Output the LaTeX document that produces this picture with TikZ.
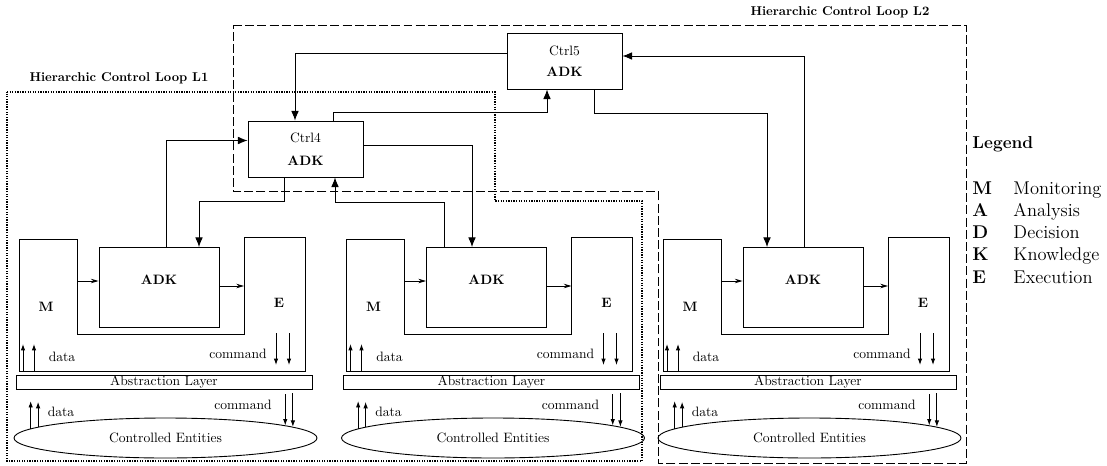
\documentclass[tikz,border=0pt]{standalone}
\usepackage{amsmath}
\usetikzlibrary{calc,arrows.meta,positioning,shapes.geometric}

\begin{document}
\fontsize{10.6}{12.7}\selectfont
\begin{tikzpicture}[x=0.78pt,y=-0.78pt,line width=0.7pt,
    ctrlbox/.style={draw,align=center,minimum width=115*0.78pt,minimum height=56*0.78pt,inner sep=0pt},
    adkbox/.style={draw,minimum width=120*0.78pt,minimum height=80*0.78pt,inner sep=0pt},
    layerbox/.style={draw,minimum width=296*0.78pt,minimum height=14*0.78pt,inner sep=0pt},
    entity/.style={draw,ellipse,minimum width=303*0.78pt,minimum height=40*0.78pt,inner sep=0pt},
    looplabel/.style={font=\fontsize{10}{12}\selectfont\bfseries},
    legfont/.style={font=\fontsize{14.4}{17}\selectfont,anchor=base west,inner sep=0pt},
    legbold/.style={font=\fontsize{14.4}{17}\selectfont\bfseries,anchor=base west,inner sep=0pt},
    bigarr/.style={-{Latex[length=7.5pt,width=6pt]}},
    smallarr/.style={-{Latex[length=5pt,width=3.5pt]}},
    thinarr/.style={-{Stealth[length=6pt,width=3.5pt]}},
    loopone/.style={line width=0.9pt,dash pattern=on 1pt off 1pt},
    looptwo/.style={line width=0.7pt,dash pattern=on 7pt off 2.5pt}]
    \useasboundingbox (0,0) rectangle (1107,466);

    \draw[loopone] (7,92) -- (495,92) -- (495,201) -- (642,201) -- (642,461) -- (7,461) -- cycle;
    \draw[looptwo] (233,25) -- (966,25) -- (966,463) -- (658,463) -- (658,191) -- (233,191) -- cycle;
    \node[looplabel] (lbl1) at (119,78) {Hierarchic Control Loop L1};
    \node[looplabel] (lbl2) at (840,12) {Hierarchic Control Loop L2};

    \node[ctrlbox] (ctrl4) at (305.5,149) {Ctrl4\\[5pt]\textbf{ADK}};
    \node[ctrlbox] (ctrl5) at (564.5,61) {Ctrl5\\[3.5pt]\textbf{ADK}};

    \foreach \i/\dx in {1/0,2/327.5,3/644}{
        \draw (19+\dx,239) -- (77+\dx,239) -- (77+\dx,334) -- (244+\dx,334) -- (244+\dx,237)
            -- (305+\dx,237) -- (305+\dx,371) -- (19+\dx,371) -- cycle;
        \coordinate (mout\i) at (77+\dx,281);
        \coordinate (ein\i) at (244+\dx,286);
        \coordinate (mbot\i) at (19+\dx,371);
        \coordinate (ebot\i) at (305+\dx,371);
        \node[font=\bfseries] (m\i) at (46+\dx,307) {M};
        \node[font=\bfseries] (e\i) at (279+\dx,303) {E};
        \node[adkbox] (adk\i) at (159+\dx,287.5) {};
        \node[font=\bfseries] (adkt\i) at (159+\dx,280) {ADK};
        \draw[thinarr] (mout\i) -- (mout\i -| adk\i.west);
        \draw[thinarr] (adk\i.east |- ein\i) -- (ein\i);

        \draw[smallarr] ($(mbot\i)+(4,0)$) -- ++(0,-27);
        \draw[smallarr] ($(mbot\i)+(15,0)$) -- ++(0,-27);
        \node (dat\i) at (62+\dx,357) {data};
        \draw[smallarr] ($(ebot\i)+(-29,-38)$) -- ++(0,32);
        \draw[smallarr] ($(ebot\i)+(-16,-38)$) -- ++(0,32);
        \node (cmd\i) at (238+\dx,354) {command};

        \node[layerbox] (al\i) at (164+\dx,382) {Abstraction Layer};
        \node[entity] (ce\i) at (165.5+\dx,438) {Controlled Entities};
        \draw[smallarr] (ce\i.176.5) -- ++(0,-27.5);
        \draw[smallarr] (ce\i.175.2) -- ++(0,-25);
        \node (ldat\i) at (61+\dx,412) {data};
        \draw[smallarr] ($(ce\i.6.9)+(0,-31)$) -- (ce\i.6.9);
        \draw[smallarr] ($(ce\i.5.2)+(0,-33.5)$) -- (ce\i.5.2);
        \node (lcmd\i) at (243+\dx,405) {command};
    }

    \draw[bigarr] ($(ctrl5.west)+(0,-8)$) -| ($(ctrl4.north)+(-10.5,0)$);
    \draw[bigarr] ($(ctrl4.north)+(27.5,0)$) -- ++(0,-8) -| ($(ctrl5.south)+(-17.5,0)$);
    \draw[bigarr] ($(ctrl4.east)+(0,-3.5)$) -| ($(adk2.north)+(-14.5,0)$);
    \draw[bigarr] ($(adk2.north)+(-42.5,0)$) -- ++(0,-45) -| ($(ctrl4.south)+(29.5,0)$);
    \draw[bigarr] ($(ctrl4.south)+(-21.5,0)$) -- ++(0,24) -| ($(adk1.north)+(40,0)$);
    \draw[bigarr] ($(adk1.north)+(7,0)$) |- ($(ctrl4.west)+(0,-8.5)$);
    \draw[bigarr] ($(adk3.north)+(1,0)$) |- ($(ctrl5.east)+(0,-5)$);
    \draw[bigarr] ($(ctrl5.south)+(29.5,0)$) -- ++(0,24) -| ($(adk3.north)+(-36,0)$);

    \node[legbold,font=\fontsize{13.5}{16}\selectfont\bfseries] (legt) at (972,148) {Legend};
    \foreach \k/\w [count=\n] in {M/Monitoring,A/Analysis,D/Decision,K/Knowledge,E/Execution}{
        \node[legbold] (key\k) at (972,171.75+22.25*\n) {\k};
        \node[legfont] (word\k) at (1013,171.75+22.25*\n) {\w};
    }
\end{tikzpicture}
\end{document}
